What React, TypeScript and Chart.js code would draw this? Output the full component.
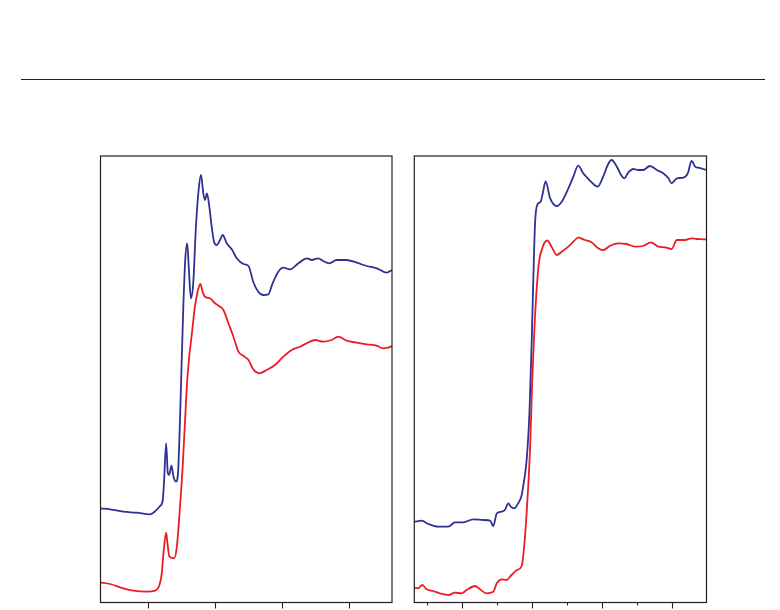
import React, { useEffect, useRef } from "react";
import { Chart, registerables } from "chart.js";

Chart.register(...registerables);

// ---------- Left panel (energy, eV) ----------
const leftBlueE = [8965.6, 8968.6, 8972.5, 8976.5, 8980.5, 8981.5, 8983.5, 8984.3, 8984.7, 8985.3, 8985.8, 8986.2, 8986.9, 8987.5, 8988.3, 8988.9, 8989.5, 8989.7, 8990.4, 8991.0, 8991.6, 8992.1, 8992.7, 8993.4, 8994.2, 8995.0, 8995.7, 8996.4, 8996.9, 8997.5, 8998.2, 8998.9, 8999.6, 9000.4, 9001.4, 9002.2, 9003.4, 9004.9, 9006.4, 9008.4, 9009.9, 9011.3, 9012.8, 9014.3, 9015.8, 9017.1, 9018.8, 9020.3, 9022.3, 9024.8, 9027.3, 9028.8, 9030.7, 9032.2, 9034.0, 9036.2, 9039.2, 9042.2, 9045.2, 9048.2, 9051.2, 9052.7];
const leftBlueMu = [0.942, 0.932, 0.908, 0.898, 0.882, 0.898, 0.965, 1.025, 1.225, 1.592, 1.295, 1.275, 1.368, 1.258, 1.208, 1.325, 1.895, 2.125, 2.925, 3.425, 3.592, 3.325, 3.042, 3.195, 3.758, 4.125, 4.275, 4.092, 4.025, 4.092, 3.958, 3.758, 3.608, 3.575, 3.625, 3.675, 3.592, 3.532, 3.442, 3.385, 3.365, 3.208, 3.108, 3.075, 3.082, 3.192, 3.308, 3.348, 3.332, 3.392, 3.442, 3.425, 3.442, 3.415, 3.392, 3.425, 3.425, 3.398, 3.365, 3.342, 3.298, 3.325];

const leftRedE = [8965.6, 8968.6, 8972.5, 8975.5, 8979.5, 8982.0, 8983.3, 8984.0, 8984.5, 8985.3, 8985.7, 8986.3, 8987.7, 8988.5, 8989.3, 8990.3, 8991.5, 8992.1, 8993.0, 8993.9, 8994.7, 8995.5, 8996.2, 8996.9, 8998.4, 8999.9, 9001.4, 9002.4, 9003.9, 9005.4, 9006.9, 9008.4, 9009.9, 9011.3, 9013.1, 9015.3, 9017.8, 9020.3, 9022.8, 9025.3, 9027.8, 9029.8, 9032.2, 9034.7, 9036.7, 9039.2, 9042.2, 9045.2, 9048.2, 9050.1, 9051.6, 9052.7];
const leftRedMu = [0.202, 0.185, 0.142, 0.118, 0.108, 0.118, 0.175, 0.292, 0.492, 0.698, 0.592, 0.458, 0.442, 0.558, 0.892, 1.392, 2.175, 2.425, 2.692, 2.958, 3.108, 3.185, 3.108, 3.058, 3.042, 2.992, 2.958, 2.925, 2.792, 2.658, 2.508, 2.465, 2.425, 2.332, 2.292, 2.325, 2.375, 2.458, 2.525, 2.558, 2.602, 2.625, 2.608, 2.625, 2.658, 2.618, 2.598, 2.582, 2.568, 2.542, 2.548, 2.565];

// ---------- Right panel (energy, eV) ----------
const rightBlueE = [8966.5, 8968.6, 8970.5, 8973.3, 8976.2, 8978.1, 8980.5, 8983.3, 8986.2, 8988.1, 8989.0, 8990.0, 8991.4, 8992.3, 8993.3, 8994.0, 8995.0, 8996.1, 8996.6, 8997.1, 8997.5, 8998.5, 8999.3, 8999.9, 9000.4, 9000.9, 9001.5, 9002.5, 9003.1, 9003.9, 9005.2, 9007.1, 9008.5, 9010.4, 9011.8, 9013.2, 9014.6, 9015.9, 9017.0, 9018.7, 9020.3, 9021.6, 9022.7, 9024.2, 9025.4, 9026.3, 9027.5, 9028.9, 9030.3, 9031.7, 9033.6, 9035.6, 9037.4, 9038.9, 9039.8, 9041.3, 9043.1, 9044.4, 9045.5, 9046.5, 9047.4, 9048.8, 9049.7];
const rightBlueMu = [0.808, 0.818, 0.785, 0.758, 0.758, 0.802, 0.802, 0.832, 0.825, 0.818, 0.765, 0.892, 0.908, 0.925, 0.992, 0.958, 0.942, 0.992, 1.025, 1.075, 1.158, 1.425, 1.895, 2.558, 3.225, 3.792, 3.975, 4.008, 4.092, 4.21, 4.042, 3.965, 4.008, 4.142, 4.258, 4.368, 4.292, 4.242, 4.202, 4.158, 4.258, 4.375, 4.425, 4.358, 4.275, 4.242, 4.302, 4.335, 4.325, 4.325, 4.365, 4.325, 4.292, 4.242, 4.192, 4.242, 4.248, 4.292, 4.415, 4.358, 4.348, 4.335, 4.325];

const rightRedE = [8966.5, 8967.6, 8968.8, 8970.0, 8971.9, 8973.8, 8976.2, 8978.1, 8980.0, 8981.4, 8983.8, 8985.2, 8987.1, 8989.0, 8990.0, 8991.4, 8992.8, 8994.2, 8995.7, 8997.1, 8997.8, 8998.5, 8999.5, 9000.1, 9000.7, 9001.4, 9002.1, 9002.8, 9003.5, 9004.4, 9005.6, 9007.1, 9008.5, 9010.4, 9011.8, 9013.2, 9015.1, 9017.0, 9018.9, 9020.3, 9022.3, 9024.6, 9027.0, 9029.4, 9031.7, 9033.9, 9036.0, 9037.9, 9039.8, 9041.3, 9043.6, 9045.5, 9047.0, 9048.8, 9049.7];
const rightRedMu = [0.148, 0.142, 0.175, 0.132, 0.115, 0.092, 0.075, 0.098, 0.092, 0.125, 0.165, 0.132, 0.092, 0.108, 0.192, 0.232, 0.225, 0.275, 0.325, 0.365, 0.558, 0.895, 1.558, 2.225, 2.725, 3.158, 3.425, 3.525, 3.592, 3.62, 3.558, 3.475, 3.508, 3.558, 3.608, 3.648, 3.625, 3.602, 3.542, 3.525, 3.568, 3.592, 3.585, 3.558, 3.565, 3.602, 3.558, 3.552, 3.535, 3.625, 3.625, 3.642, 3.635, 3.632, 3.63];

// ---------- Axes ----------
const leftRange = [8965.7, 9052.75];
const rightRange = [8966.5, 9049.74];
const yRange = [0, 4.465];
const leftMajorTicks = [8980, 9000, 9020, 9040];
const rightMajorTicks = [8980, 9000, 9020, 9040];
const rightMinorTicks = [8970, 8990, 9010, 9030];

const BLUE = "#2e3192";
const RED = "#ed1c24";
const INK = "#231f20";

function zip(xs: number[], ys: number[]) {
  return xs.map((x, i) => ({ x, y: ys[i] }));
}

function framePlugin(major: number[], minor: number[]) {
  return {
    id: "frameTicks",
    afterDraw(chart: any) {
      const { ctx, chartArea } = chart;
      const xs = chart.scales.x;
      ctx.save();
      ctx.strokeStyle = INK;
      ctx.lineWidth = 1.2;
      ctx.strokeRect(chartArea.left, chartArea.top, chartArea.right - chartArea.left, chartArea.bottom - chartArea.top);
      ctx.lineWidth = 1.1;
      const drawTick = (v: number, len: number) => {
        const px = Math.round(xs.getPixelForValue(v)) + 0.5;
        ctx.beginPath();
        ctx.moveTo(px, chartArea.bottom);
        ctx.lineTo(px, chartArea.bottom + len);
        ctx.stroke();
      };
      major.forEach((v) => drawTick(v, 6));
      minor.forEach((v) => drawTick(v, 3));
      ctx.restore();
    },
  };
}

function Panel(props: {
  left: number;
  padLeft: number;
  padRight: number;
  range: number[];
  blue: { x: number; y: number }[];
  red: { x: number; y: number }[];
  major: number[];
  minor: number[];
}) {
  const ref = useRef<HTMLCanvasElement | null>(null);
  useEffect(() => {
    if (!ref.current) return;
    const chart = new Chart(ref.current, {
      type: "line",
      data: {
        datasets: [
          {
            data: props.blue,
            borderColor: BLUE,
            borderWidth: 1.8,
            pointRadius: 0,
            cubicInterpolationMode: "monotone",
          },
          {
            data: props.red,
            borderColor: RED,
            borderWidth: 1.8,
            pointRadius: 0,
            cubicInterpolationMode: "monotone",
          },
        ],
      },
      options: {
        animation: false,
        responsive: false,
        devicePixelRatio: 1,
        layout: { padding: { left: props.padLeft, right: props.padRight, top: 10, bottom: 15.5 } },
        plugins: { legend: { display: false }, tooltip: { enabled: false } },
        scales: {
          x: { type: "linear", min: props.range[0], max: props.range[1], display: false },
          y: { type: "linear", min: yRange[0], max: yRange[1], display: false },
        },
      } as any,
      plugins: [framePlugin(props.major, props.minor)],
    });
    return () => chart.destroy();
  }, []);
  return (
    <canvas
      ref={ref}
      width={312}
      height={472}
      style={{ position: "absolute", left: props.left, top: 146, width: 312, height: 472 }}
    />
  );
}

export default function App() {
  return (
    <div style={{ position: "fixed", left: 0, top: 0, width: 780, height: 610, background: "#fff", overflow: "hidden" }}>
      <div style={{ position: "absolute", left: 21, top: 79, width: 744, height: 1, background: INK }} />
      <Panel
        left={90}
        padLeft={10.5}
        padRight={10}
        range={leftRange}
        blue={zip(leftBlueE, leftBlueMu)}
        red={zip(leftRedE, leftRedMu)}
        major={leftMajorTicks}
        minor={[]}
      />
      <Panel
        left={404}
        padLeft={10.3}
        padRight={9.5}
        range={rightRange}
        blue={zip(rightBlueE, rightBlueMu)}
        red={zip(rightRedE, rightRedMu)}
        major={rightMajorTicks}
        minor={rightMinorTicks}
      />
    </div>
  );
}
